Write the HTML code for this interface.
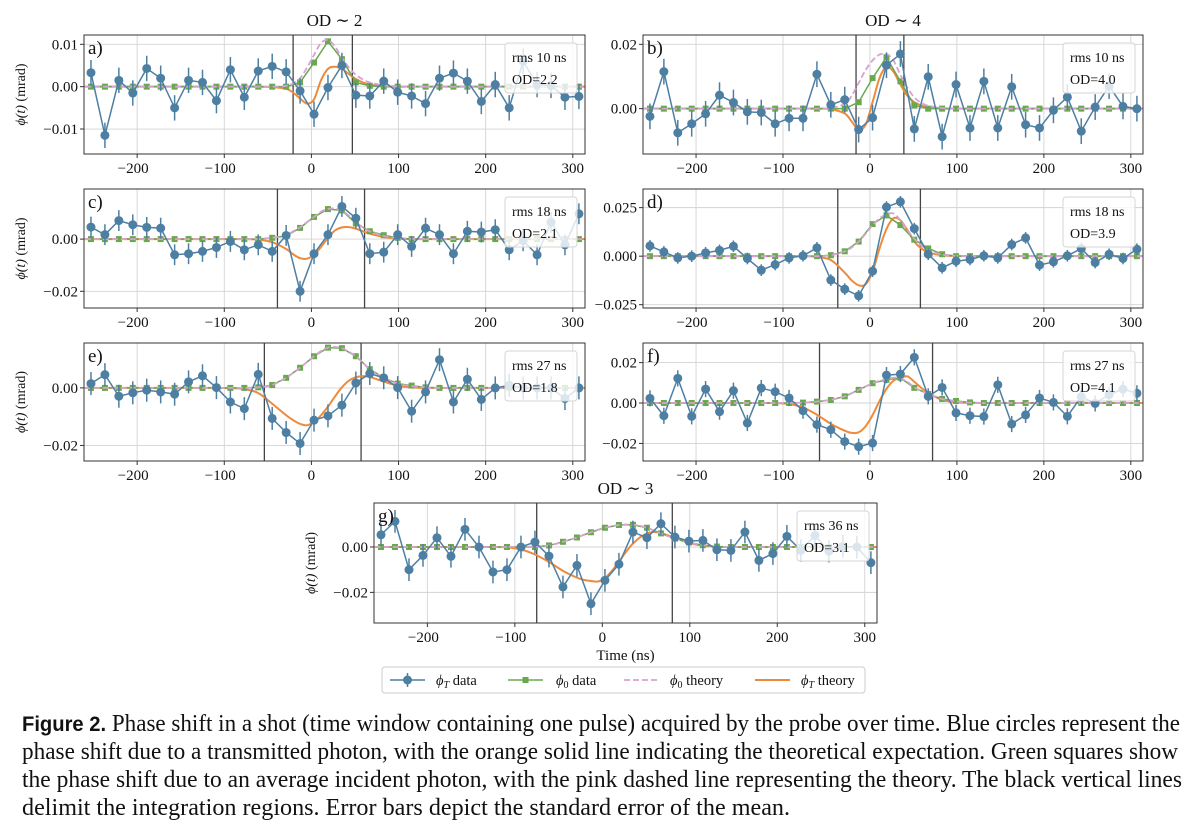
<!DOCTYPE html>
<html><head><meta charset="utf-8"><title>Figure 2</title>
<style>
html,body{margin:0;padding:0;background:#fff;}
svg{display:block;}
text{font-family:"Liberation Serif","DejaVu Serif",serif;fill:#111;}
</style></head>
<body>
<svg id="fig" width="1200" height="832" viewBox="0 0 1200 832" xmlns="http://www.w3.org/2000/svg">
<rect x="0" y="0" width="1200" height="832" fill="#fff"/>
<g id="panels"></g>
<g>
<rect x="382" y="667" width="483" height="26" rx="3" fill="#fff" stroke="#ccc" stroke-width="1"/>
<g>
<line x1="390" y1="680" x2="425" y2="680" stroke="#4d7fa3" stroke-width="1.5"/>
<line x1="407.5" y1="673" x2="407.5" y2="687" stroke="#4d7fa3" stroke-width="1.5"/>
<circle cx="407.5" cy="680" r="4.5" fill="#4d7fa3"/>
<text x="436" y="685" font-size="14.5"><tspan font-style="italic">ϕ</tspan><tspan font-style="italic" font-size="10" dy="3">T</tspan><tspan dy="-3"> data</tspan></text>
</g>
<g>
<line x1="508" y1="680" x2="543" y2="680" stroke="#6aa84f" stroke-width="1.5"/>
<rect x="522.5" y="677" width="6" height="6" fill="#6aa84f"/>
<text x="556" y="685" font-size="14.5"><tspan font-style="italic">ϕ</tspan><tspan font-size="10" dy="3">0</tspan><tspan dy="-3"> data</tspan></text>
</g>
<g>
<line x1="624" y1="680" x2="659" y2="680" stroke="#d9a0d4" stroke-width="1.8" stroke-dasharray="6,3"/>
<text x="670" y="685" font-size="14.5"><tspan font-style="italic">ϕ</tspan><tspan font-size="10" dy="3">0</tspan><tspan dy="-3"> theory</tspan></text>
</g>
<g>
<line x1="755" y1="680" x2="790" y2="680" stroke="#ee8a3c" stroke-width="2"/>
<text x="801" y="685" font-size="14.5"><tspan font-style="italic">ϕ</tspan><tspan font-style="italic" font-size="10" dy="3">T</tspan><tspan dy="-3"> theory</tspan></text>
</g>
</g>
<g font-size="24">
<text x="22" y="731" textLength="1158" lengthAdjust="spacingAndGlyphs"><tspan font-family="Liberation Sans, sans-serif" font-weight="bold" font-size="21">Figure 2.</tspan> Phase shift in a shot (time window containing one pulse) acquired by the probe over time. Blue circles represent the</text>
<text x="22" y="759" textLength="1156" lengthAdjust="spacingAndGlyphs">phase shift due to a transmitted photon, with the orange solid line indicating the theoretical expectation. Green squares show</text>
<text x="22" y="787" textLength="1160" lengthAdjust="spacingAndGlyphs">the phase shift due to an average incident photon, with the pink dashed line representing the theory. The black vertical lines</text>
<text x="22" y="815" textLength="768" lengthAdjust="spacingAndGlyphs">delimit the integration regions. Error bars depict the standard error of the mean.</text>
</g>
</svg>
<script>
// shared time grids (ns)
const timeStart = -253, timeStep = 16, nPts = 36;
const thTime = [-260,-125,-109,-93,-77,-61,-45,-29,-21,-13,-5,3,11,19,27,35,43,51,59,67,83,99,115,131,147,315];
const xTicks = [-200,-100,0,100,200,300];
const xTickLabels = ["\u2212200","\u2212100","0","100","200","300"];

// panel a
const blueA = [0.0033,-0.0115,0.0015,-0.0015,0.0043,0.002,-0.005,0.0015,0.001,-0.0033,0.004,-0.0025,0.0037,0.0048,0.0035,-0.001,-0.0065,-0.0002,0.005,-0.002,-0.0022,0.0013,-0.0013,-0.0022,-0.004,0.002,0.0032,0.0013,-0.0035,0.0005,-0.005,0.006,0.0005,0.0003,-0.0025,-0.0023];
const greenA = [0,0,0,0,0,0,0,0,0,0,0,0,0,0,0,0.001,0.0057,0.0107,0.0065,0.001,0.0002,0,0,0,0,0,0,0,0,0,0,0,0,0,0,0];
const pinkA = [0,0,0,0,0,0,0,0.0002,0.0008,0.002,0.0045,0.0075,0.0103,0.011,0.0095,0.0068,0.0045,0.0028,0.0017,0.001,0.0003,0.0001,0,0,0,0];
const orangeA = [0,0,0,0,0,0,-0.0001,-0.0005,-0.0014,-0.0028,-0.004,-0.003,0.0015,0.0042,0.0047,0.0042,0.003,0.0018,0.001,0.0005,0.0001,0,0,0,0,0];
// panel b
const blueB = [-0.0024,0.0115,-0.0075,-0.0047,-0.0016,0.0042,0.0019,-0.001,-0.0012,-0.0047,-0.003,-0.003,0.0107,0.0012,0.0028,-0.0065,-0.0028,0.0135,0.017,-0.0063,0.0099,-0.0087,0.0075,-0.006,0.0085,-0.006,0.0068,-0.005,-0.006,-0.0005,0.0036,-0.007,0.0005,0.007,0.0007,0];
const greenB = [0,0,0,0,0,0,0,0,0,0,0,0,0,0,0,0.002,0.0095,0.016,0.0085,0.001,0,0,0,0,0,0,0,0,0,0,0,0,0,0,0,0];
const pinkB = [0,0,0,0,0,0,0.0002,0.0015,0.004,0.008,0.012,0.015,0.0168,0.017,0.015,0.0105,0.0065,0.0035,0.0018,0.0009,0.0002,0,0,0,0,0];
const orangeB = [0,0,0,0,0,0,-0.0002,-0.0015,-0.004,-0.0065,-0.005,0.002,0.0095,0.013,0.0115,0.0075,0.004,0.002,0.001,0.0004,0.0001,0,0,0,0,0];
// panel c
const blueC = [0.0046,0.0017,0.0071,0.0055,0.0045,0.0042,-0.006,-0.0056,-0.0047,-0.0032,-0.0009,-0.0041,-0.0022,-0.0047,0.0014,-0.02,-0.0056,0.0017,0.0125,0.008,-0.0056,-0.005,0.0017,-0.0028,0.0042,0.0017,-0.0056,0.003,0.0027,0.0036,-0.0041,-0.0006,-0.006,0.0065,-0.0022,0.0097];
const greenC = [0,0,0,0,0,0,0,0,0,0,0,0,0,0.0005,0.0012,0.0043,0.0085,0.0115,0.011,0.006,0.003,0.0015,0.0005,0,0,0,0,0,0,0,0,0,0,0,0,0];
const pinkC = [0,0,0,0,0,0,0.0005,0.0015,0.003,0.0045,0.0065,0.0085,0.0105,0.0115,0.0118,0.0108,0.009,0.0065,0.0045,0.003,0.0012,0.0004,0.0001,0,0,0];
const orangeC = [0,0,0,0,0,-0.0002,-0.0012,-0.0038,-0.0058,-0.0073,-0.0075,-0.006,-0.003,0.0005,0.0033,0.0045,0.0046,0.004,0.003,0.0021,0.0008,0.0002,0,0,0,0];
// panel d
const blueD = [0.0053,0.0022,-0.0009,0,0.0017,0.003,0.0051,-0.0012,-0.0072,-0.0043,-0.0009,0.0002,0.0043,-0.0123,-0.017,-0.0204,-0.0077,0.0253,0.028,0.0142,0.001,-0.006,-0.0026,-0.0017,0.0002,-0.0009,0.006,0.0094,-0.0046,-0.0029,0.0002,0.0039,-0.0033,0.001,-0.0012,0.0036];
const greenD = [0,0,0,0,0,0,0,0,0,0,0,0,0,0.0005,0.0025,0.0075,0.0165,0.021,0.016,0.0085,0.004,0.001,0,0,0,0,0,0,0,0,0,0,0,0,0,0];
const pinkD = [0,0,0,0,0,0,0.0005,0.0025,0.0045,0.0075,0.0115,0.016,0.0195,0.0215,0.022,0.0185,0.0135,0.009,0.0055,0.003,0.0008,0.0002,0,0,0,0];
const orangeD = [0,0,0,0,0,-0.0003,-0.002,-0.0085,-0.0125,-0.015,-0.0145,-0.008,0.004,0.014,0.0195,0.0185,0.0135,0.0075,0.004,0.002,0.0005,0.0001,0,0,0,0];
// panel e
const blueE = [0.0015,0.0046,-0.0029,-0.0017,-0.0008,-0.0014,-0.0022,0.0021,0.0042,0.0001,-0.0049,-0.0072,0.0047,-0.0106,-0.0155,-0.0193,-0.0112,-0.0097,-0.006,0.0017,0.005,0.0035,0.0001,-0.0081,-0.0014,0.0098,-0.0049,0.003,-0.004,0,0.0009,0,0,0,-0.0037,0];
const greenE = [0,0,0,0,0,0,0,0,0,0,0,0,0.0002,0.001,0.0035,0.007,0.011,0.014,0.0138,0.011,0.0065,0.0035,0.0015,0.0008,0.0002,0,0,0,0,0,0,0,0,0,0,0];
const pinkE = [0,0,0,0,0,0.0002,0.001,0.0035,0.0052,0.007,0.009,0.011,0.0128,0.014,0.0142,0.0138,0.0125,0.011,0.0088,0.0065,0.0035,0.0015,0.0006,0.0002,0,0];
const orangeE = [0,0,0,-0.0001,-0.0004,-0.0018,-0.0055,-0.0095,-0.0112,-0.0125,-0.013,-0.0118,-0.0095,-0.0065,-0.003,0.0002,0.0025,0.0037,0.0041,0.0038,0.0022,0.0008,0.0002,0,0,0];
// panel f
const blueF = [0.0023,-0.0063,0.0122,-0.0066,0.0069,-0.0043,0.0061,-0.0099,0.0074,0.0056,0.0025,-0.0038,-0.0107,-0.0132,-0.0191,-0.0216,-0.0198,0.0138,0.0143,0.0226,0.0033,0.0077,-0.0049,-0.0063,-0.0067,0.009,-0.0104,-0.0059,0.0025,0.0003,-0.0066,0.0031,-0.0002,0.0041,0.0069,0.0048];
const greenF = [0,0,0,0,0,0,0,0,0,0,0,0.0002,0.0007,0.0015,0.0033,0.0065,0.0098,0.0115,0.0125,0.0075,0.0045,0.002,0.001,0.0003,0,0,0,0,0,0,0,0,0,0,0,0];
const pinkF = [0,0,0,0,0.0002,0.0007,0.0016,0.0033,0.0048,0.0065,0.0082,0.0098,0.011,0.0118,0.0125,0.0122,0.0105,0.0078,0.006,0.0045,0.002,0.0008,0.0002,0,0,0];
const orangeF = [0,0,-0.0001,-0.0005,-0.0022,-0.0058,-0.0103,-0.0137,-0.0148,-0.0145,-0.0115,-0.006,0.001,0.007,0.011,0.0125,0.0132,0.0105,0.0075,0.005,0.0015,0.0004,0.0001,0,0,0];
// panel g
const blueG = [0.0054,0.0113,-0.01,-0.0037,0.0041,-0.0041,0.0078,0,-0.011,-0.01,0,0.0022,-0.004,-0.0176,-0.0081,-0.025,-0.0147,-0.0076,0.0066,0.0041,0.0103,0.0044,0.0026,0.0029,-0.0012,-0.0015,0.0066,-0.0059,-0.0029,0.0047,-0.0015,0.0051,-0.0018,0.0003,0,-0.0069];
const greenG = [0,0,0,0,0,0,0,0,0,0,0,0,0.0007,0.0023,0.0042,0.0065,0.0085,0.0097,0.0098,0.0085,0.006,0.0037,0.002,0.0008,0.0002,0,0,0,0,0,0,0,0,0,0,0];
const pinkG = [0,0,0,0,0.0002,0.0007,0.0023,0.0042,0.0054,0.0065,0.0076,0.0085,0.0092,0.0097,0.0099,0.0098,0.0093,0.0085,0.0073,0.006,0.0037,0.002,0.0008,0.0002,0,0];
const orangeG = [0,0,-0.0002,-0.0011,-0.0033,-0.0066,-0.0105,-0.0135,-0.0145,-0.015,-0.0152,-0.0137,-0.0105,-0.0065,-0.0022,0.0015,0.0042,0.006,0.0066,0.0062,0.004,0.0018,0.0006,0.0001,0,0];

// standard errors per panel
const errA = 0.003, errB = 0.004, errC = 0.004, errD = 0.003, errE = 0.004, errF = 0.004, errG = 0.005;
// integration window edges (ns)
const winA = [-21,47], winB = [-16,39], winC = [-39,61], winD = [-37,58], winE = [-54,57], winF = [-58,72], winG = [-75,80];
// y ticks
const yTicksA = [-0.01,0,0.01], yLabA = ["\u22120.01","0.00","0.01"];
const yTicksB = [0,0.02], yLabB = ["0.00","0.02"];
const yTicksC = [-0.02,0], yLabC = ["\u22120.02","0.00"];
const yTicksD = [-0.025,0,0.025], yLabD = ["\u22120.025","0.000","0.025"];
const yTicksE = [-0.02,0], yLabE = ["\u22120.02","0.00"];
const yTicksF = [-0.02,0,0.02], yLabF = ["\u22120.02","0.00","0.02"];
const yTicksG = [-0.02,0], yLabG = ["\u22120.02","0.00"];
const rmsLabels = ["rms 10 ns","rms 10 ns","rms 18 ns","rms 18 ns","rms 27 ns","rms 27 ns","rms 36 ns"];
const odLabels = ["OD=2.2","OD=4.0","OD=2.1","OD=3.9","OD=1.8","OD=4.1","OD=3.1"];

const XMIN = -261, XMAX = 314;
const NS = "http://www.w3.org/2000/svg";
const BLUE = "#4d7fa3", GREEN = "#6aa84f", PINK = "#d9a0d4", ORANGE = "#ee8a3c";

const panels = [
 {id:"a",x0:84,x1:585,y0:35,y1:154,ymin:-0.0159,ymax:0.0122,blue:blueA,green:greenA,pink:pinkA,orange:orangeA,err:errA,win:winA,yt:yTicksA,yl:yLabA,ylab:true,title:"OD \u223c 2"},
 {id:"b",x0:643,x1:1143,y0:35,y1:154,ymin:-0.0141,ymax:0.0229,blue:blueB,green:greenB,pink:pinkB,orange:orangeB,err:errB,win:winB,yt:yTicksB,yl:yLabB,ylab:false,title:"OD \u223c 4"},
 {id:"c",x0:84,x1:585,y0:189,y1:308,ymin:-0.0264,ymax:0.0192,blue:blueC,green:greenC,pink:pinkC,orange:orangeC,err:errC,win:winC,yt:yTicksC,yl:yLabC,ylab:true},
 {id:"d",x0:643,x1:1143,y0:189,y1:308,ymin:-0.0267,ymax:0.0346,blue:blueD,green:greenD,pink:pinkD,orange:orangeD,err:errD,win:winD,yt:yTicksD,yl:yLabD,ylab:false},
 {id:"e",x0:84,x1:585,y0:343,y1:461,ymin:-0.0254,ymax:0.0156,blue:blueE,green:greenE,pink:pinkE,orange:orangeE,err:errE,win:winE,yt:yTicksE,yl:yLabE,ylab:true},
 {id:"f",x0:643,x1:1143,y0:343,y1:461,ymin:-0.0287,ymax:0.0297,blue:blueF,green:greenF,pink:pinkF,orange:orangeF,err:errF,win:winF,yt:yTicksF,yl:yLabF,ylab:false},
 {id:"g",x0:374,x1:877,y0:503,y1:623,ymin:-0.0335,ymax:0.0194,blue:blueG,green:greenG,pink:pinkG,orange:orangeG,err:errG,win:winG,yt:yTicksG,yl:yLabG,ylab:true,title:"OD \u223c 3",xlabel:true}
];

function mk(tag, attrs, parent){
  const el = document.createElementNS(NS, tag);
  for (const k in attrs) el.setAttribute(k, attrs[k]);
  if (parent) parent.appendChild(el);
  return el;
}
function smoothPath(pts){
  let d = "M" + pts[0][0].toFixed(2) + "," + pts[0][1].toFixed(2);
  for (let i = 0; i < pts.length - 1; i++){
    const p0 = pts[Math.max(0,i-1)], p1 = pts[i], p2 = pts[i+1], p3 = pts[Math.min(pts.length-1,i+2)];
    const c1x = p1[0] + (p2[0]-p0[0])/6, c1y = p1[1] + (p2[1]-p0[1])/6;
    const c2x = p2[0] - (p3[0]-p1[0])/6, c2y = p2[1] - (p3[1]-p1[1])/6;
    d += " C" + c1x.toFixed(2) + "," + c1y.toFixed(2) + " " + c2x.toFixed(2) + "," + c2y.toFixed(2) + " " + p2[0].toFixed(2) + "," + p2[1].toFixed(2);
  }
  return d;
}

const root = document.getElementById("panels");
panels.forEach((p, pi) => {
  const sx = t => p.x0 + (t - XMIN) / (XMAX - XMIN) * (p.x1 - p.x0);
  const sy = v => p.y1 - (v - p.ymin) / (p.ymax - p.ymin) * (p.y1 - p.y0);
  const g = mk("g", {}, root);
  
  
  const cp = mk("clipPath", {id: "clip" + p.id}, g);
  mk("rect", {x: p.x0, y: p.y0, width: p.x1 - p.x0, height: p.y1 - p.y0}, cp);

  const grid = mk("g", {stroke: "#d3d3d3", "stroke-width": 0.9}, g);
  
  
  xTicks.forEach(t => mk("line", {x1: sx(t), x2: sx(t), y1: p.y0, y2: p.y1}, grid));
  p.yt.forEach(v => mk("line", {x1: p.x0, x2: p.x1, y1: sy(v), y2: sy(v)}, grid));

  const plot = mk("g", {"clip-path": "url(#clip" + p.id + ")"}, g);
  
  

  p.win.forEach((w, wi) => {
    const l = mk("line", {x1: sx(w), x2: sx(w), y1: p.y0, y2: p.y1, stroke: "#444", "stroke-width": 1.3}, plot);
    
    
  });

  const tData = p.blue.map((_, k) => timeStart + timeStep * k);

  const oPts = thTime.map((t, i) => [sx(t), sy(p.orange[i])]);
  const oPath = mk("path", {d: smoothPath(oPts), fill: "none", stroke: ORANGE, "stroke-width": 2}, plot);
  
  

  const gLine = mk("polyline", {points: p.green.map((v, k) => sx(tData[k]) + "," + sy(v)).join(" "), fill: "none", stroke: GREEN, "stroke-width": 1.5}, plot);
  
  
  p.green.forEach((v, k) => {
    const r = mk("rect", {x: sx(tData[k]) - 3, y: sy(v) - 3, width: 6, height: 6, fill: GREEN}, plot);
    
    
  });

  const pPts = thTime.map((t, i) => [sx(t), sy(p.pink[i])]);
  const pPath = mk("path", {d: smoothPath(pPts), fill: "none", stroke: PINK, "stroke-width": 1.8, "stroke-dasharray": "6,3"}, plot);
  
  

  const bLine = mk("polyline", {points: p.blue.map((v, k) => sx(tData[k]) + "," + sy(v)).join(" "), fill: "none", stroke: BLUE, "stroke-width": 1.5}, plot);
  
  
  p.blue.forEach((v, k) => {
    const x = sx(tData[k]);
    const eb = mk("line", {x1: x, x2: x, y1: sy(v - p.err), y2: sy(v + p.err), stroke: BLUE, "stroke-width": 1.5}, plot);
    
    
    const c = mk("circle", {cx: x, cy: sy(v), r: 4.5, fill: BLUE}, plot);
    
    
  });

  const fr = mk("rect", {x: p.x0, y: p.y0, width: p.x1 - p.x0, height: p.y1 - p.y0, fill: "none", stroke: "#333", "stroke-width": 1}, g);
  
  

  const xa = mk("g", {}, g);
  
  
  xTicks.forEach((t, i) => {
    mk("line", {x1: sx(t), x2: sx(t), y1: p.y1, y2: p.y1 + 4, stroke: "#333", "stroke-width": 1}, xa);
    const tx = mk("text", {x: sx(t) - (xTickLabels[i].startsWith("\u2212") ? 4 : 0), y: p.y1 + 19, "font-size": 15, "text-anchor": "middle"}, xa);
    tx.textContent = xTickLabels[i];
    
    
  });
  const ya = mk("g", {}, g);
  
  
  p.yt.forEach((v, i) => {
    mk("line", {x1: p.x0 - 4, x2: p.x0, y1: sy(v), y2: sy(v), stroke: "#333", "stroke-width": 1}, ya);
    const ty = mk("text", {x: p.x0 - 6, y: sy(v) + 5, "font-size": 15, "text-anchor": "end"}, ya);
    ty.textContent = p.yl[i];
    
    
  });
  if (p.ylab){
    const cy = (p.y0 + p.y1) / 2, lx = p.x0 - 59;
    const yl = mk("text", {x: lx, y: cy, "font-size": 14, "text-anchor": "middle", transform: "rotate(-90 " + lx + " " + cy + ")"}, g);
    yl.innerHTML = '<tspan font-style="italic">\u03D5(t)</tspan> (mrad)';
    
    
  }
  const lt = mk("text", {x: p.x0 + 4, y: p.y0 + 19, "font-size": 19}, g);
  lt.textContent = p.id + ")";
  
  
  const bx = p.x1 - 80, by = p.y0 + 8;
  const ib = mk("g", {}, g);
  
  
  mk("rect", {x: bx, y: by, width: 72, height: 50, rx: 3, fill: "#fff", "fill-opacity": 0.8, stroke: "#d5d5d5", "stroke-width": 1}, ib);
  const t1 = mk("text", {x: bx + 7, y: by + 19, "font-size": 14}, ib);
  t1.textContent = rmsLabels[pi];
  
  
  const t2 = mk("text", {x: bx + 7, y: by + 41, "font-size": 14}, ib);
  t2.textContent = odLabels[pi];
  
  
  if (p.title){
    const tt = mk("text", {x: (p.x0 + p.x1) / 2, y: p.y0 - 9, "font-size": 17, "text-anchor": "middle"}, g);
    tt.textContent = p.title;
    
    
  }
  if (p.xlabel){
    const xl = mk("text", {x: (p.x0 + p.x1) / 2, y: p.y1 + 37, "font-size": 15, "text-anchor": "middle"}, g);
    xl.textContent = "Time (ns)";
    
    
  }
});
</script>
</body></html>
